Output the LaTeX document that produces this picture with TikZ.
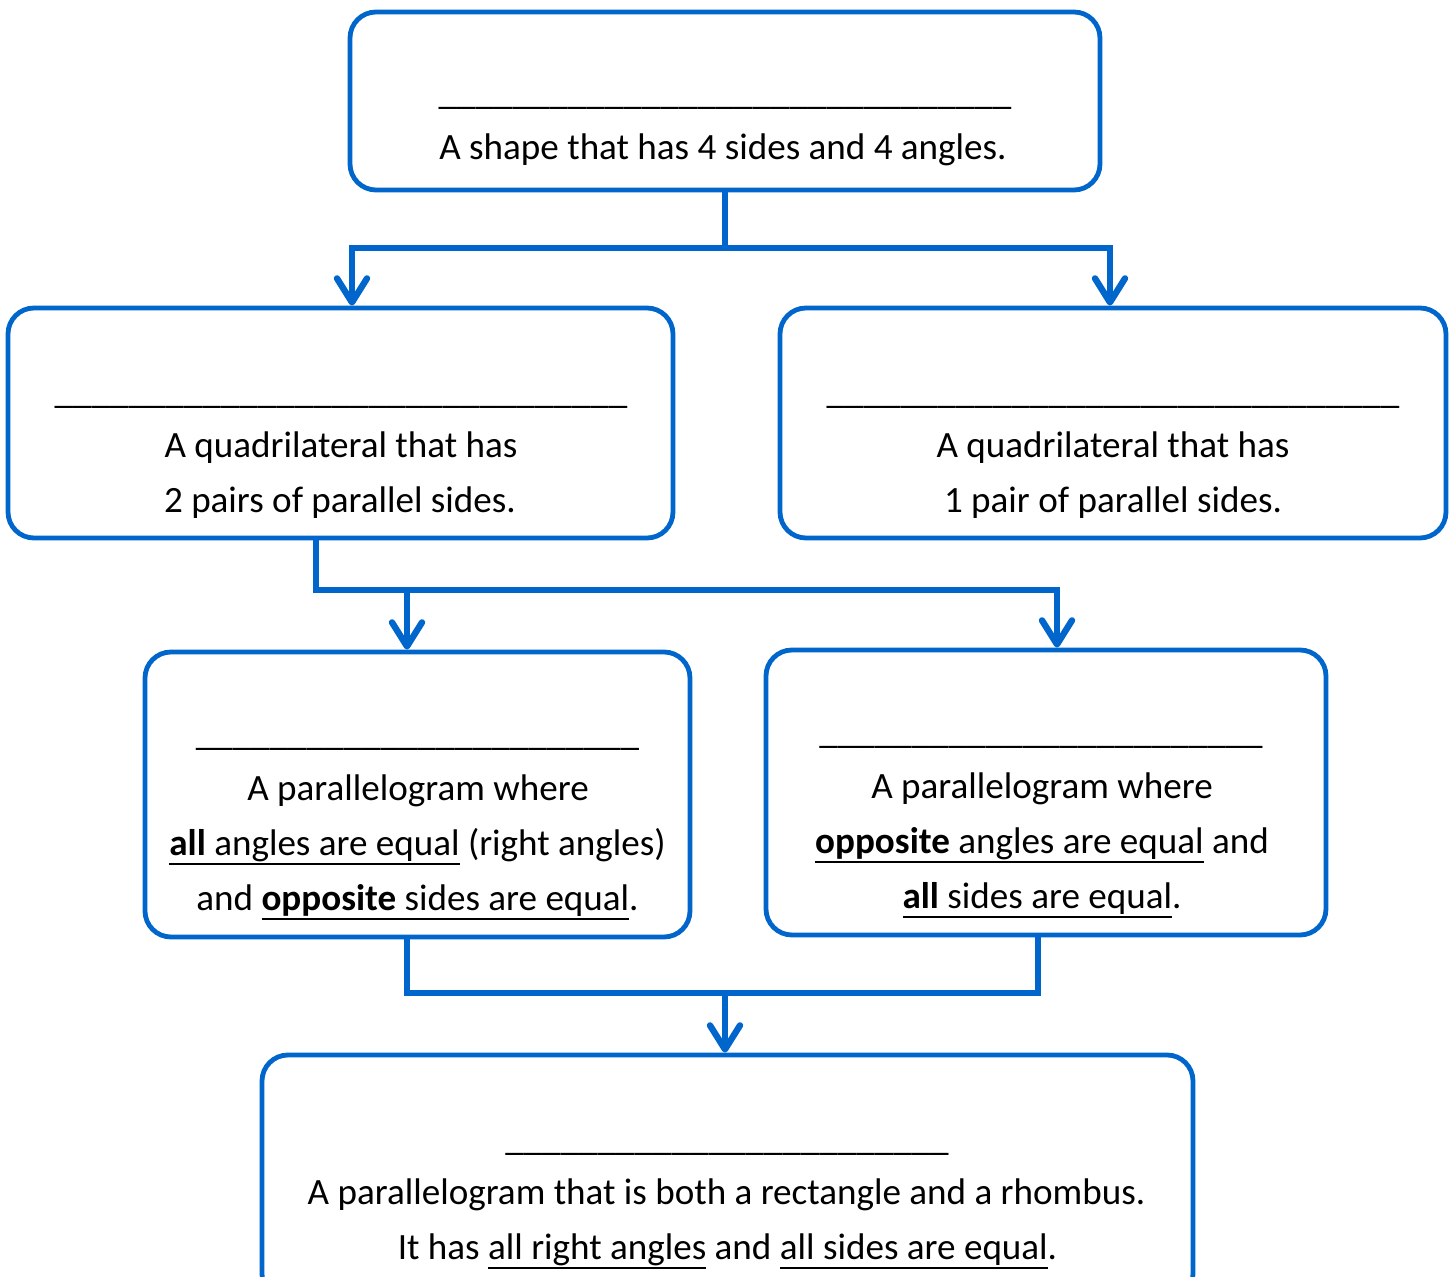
\documentclass[tikz,border=0pt]{standalone}
\usepackage{fontspec}
\setmainfont{Carlito}
\usetikzlibrary{arrows.meta}
\definecolor{flowblue}{RGB}{0,102,204}
\newcommand\myul[1]{\leavevmode\setbox0=\hbox{#1}\rlap{\rule[-4.6pt]{\wd0}{1.1pt}}\box0\relax}
\newcommand\blankline[1]{\count255=0 \loop\_\advance\count255 by 1 \ifnum\count255<#1\repeat}
\tikzset{
  box/.style={draw=flowblue, line width=2.4pt, rounded corners=13pt, inner sep=0pt},
  conn/.style={draw=flowblue, line width=3.2pt, line join=miter},
  tip/.tip={Straight Barb[length=12pt,width=15pt,round]},
  txt/.style={anchor=base, inner sep=0pt, font=\fontsize{18.55}{27.5}\selectfont},
}
\begin{document}
\begin{tikzpicture}[x=0.5pt,y=-0.5pt]
\useasboundingbox (0,0) rectangle (1453,1277);
\clip (0,0) rectangle (1453,1277);
% boxes
\node[box, minimum width=375pt, minimum height=89pt] (top) at (725,101) {};
\node[box, minimum width=332.5pt, minimum height=115pt] (b2L) at (340.5,423) {};
\node[box, minimum width=333pt, minimum height=115pt] (b2R) at (1113,423) {};
\node[box, minimum width=272.5pt, minimum height=142.5pt] (b3L) at (417.5,794.5) {};
\node[box, minimum width=280pt, minimum height=142.5pt] (b3R) at (1046,792.5) {};
\node[box, minimum width=465.5pt, minimum height=122.5pt] (bot) at (727.5,1177.5) {};
% texts
\node[txt] (t1a) at (725,105) {\blankline{31}};
\node[txt] (t1b) at (723,160) {A shape that has 4 sides and 4 angles.};
\node[txt] (t2a) at (341,404) {\blankline{31}};
\node[txt] (t2b) at (341,458) {A quadrilateral that has};
\node[txt] (t2c) at (340,513) {2 pairs of parallel sides.};
\node[txt] (t3a) at (1113,404) {\blankline{31}};
\node[txt] (t3b) at (1113,458) {A quadrilateral that has};
\node[txt] (t3c) at (1113,513) {1 pair of parallel sides.};
\node[txt] (t4a) at (417.5,746) {\blankline{24}};
\node[txt] (t4b) at (418,801) {A parallelogram where};
\node[txt] (t4c) at (417.5,856) {\myul{\textbf{all} angles are equal} (right angles)};
\node[txt] (t4d) at (417.5,911) {and \myul{\textbf{opposite} sides are equal}.};
\node[txt] (t5a) at (1041,744) {\blankline{24}};
\node[txt] (t5b) at (1042,799) {A parallelogram where};
\node[txt] (t5c) at (1042,854) {\myul{\textbf{opposite} angles are equal} and};
\node[txt] (t5d) at (1042,909) {\myul{\textbf{all} sides are equal}.};
\node[txt] (t6a) at (727,1151) {\blankline{24}};
\node[txt] (t6b) at (726.5,1205) {A parallelogram that is both a rectangle and a rhombus.};
\node[txt] (t6c) at (727.5,1260) {It has \myul{all right angles} and \myul{all sides are equal}.};
% junctions
\coordinate (j0) at (725,248);
\coordinate (jL) at (352,248);
\coordinate (jR) at (1110,248);
\coordinate (k0) at (316,590);
\coordinate (k1) at (407,590);
\coordinate (kR) at (1057,590);
\coordinate (m1) at (407,993);
\coordinate (m2) at (1038,993);
\coordinate (m0) at (725,993);
% connectors
\draw[conn] (top.south) -- (j0);
\draw[conn, tip-tip] (b2L.north -| jL) -- (jL) -- (jR) -- (b2R.north -| jR);
\draw[conn, -tip] (b2L.south -| k0) -- (k0) -- (kR) -- (b3R.north -| kR);
\draw[conn, -tip] (k1) -- (b3L.north -| k1);
\draw[conn] (b3L.south -| m1) -- (m1) -- (m2) -- (b3R.south -| m2);
\draw[conn, -tip] (m0) -- (bot.north -| m0);
\end{tikzpicture}
\end{document}
